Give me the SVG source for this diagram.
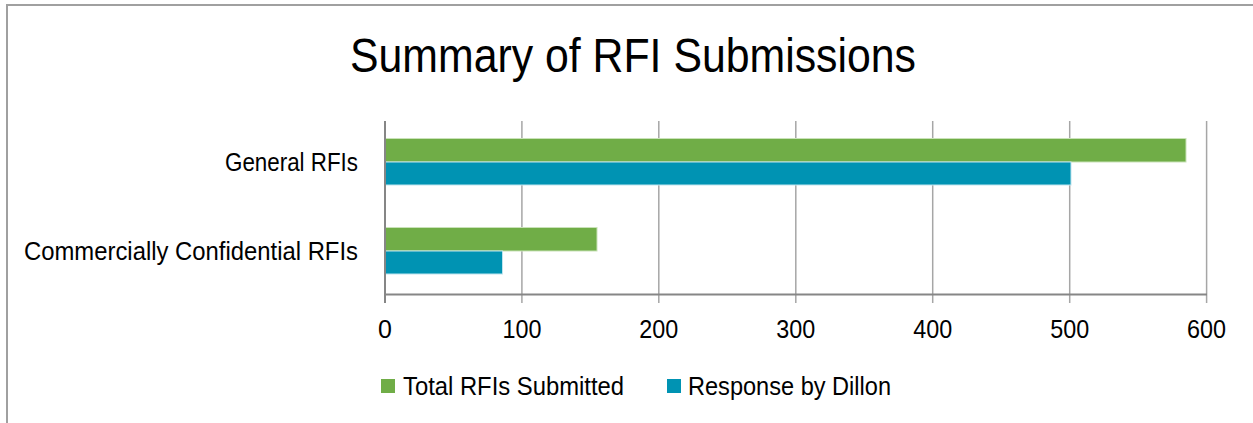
<svg xmlns="http://www.w3.org/2000/svg" width="1253" height="423" viewBox="0 0 1253 423">
<style>
text{font-family:"Liberation Sans",Arial,sans-serif;fill:#000}
.t{font-size:48px}
.c{font-size:26px;text-anchor:end}
.k{font-size:25px;text-anchor:middle}
.l{font-size:26px}
.grid{stroke:#a6a6a6;stroke-width:1.5}
.axis{stroke:#868686;stroke-width:2}
.g{fill:#70AD47;stroke:#c9e2b8;stroke-width:1}
.b{fill:#0093B3;stroke:#bfe4ee;stroke-width:1}
</style>
<rect x="0" y="0" width="1253" height="423" fill="#fff"/>
<path d="M7 423V5H1253" fill="none" stroke="#a0a0a0" stroke-width="2"/>
<g id="title"><text class="t" x="350" y="72" textLength="566" lengthAdjust="spacingAndGlyphs">Summary of RFI Submissions</text></g>
<g id="gridlines">
<line class="grid" x1="521.9" y1="121" x2="521.9" y2="303"/>
<line class="grid" x1="658.8" y1="121" x2="658.8" y2="303"/>
<line class="grid" x1="795.8" y1="121" x2="795.8" y2="303"/>
<line class="grid" x1="932.7" y1="121" x2="932.7" y2="303"/>
<line class="grid" x1="1069.7" y1="121" x2="1069.7" y2="303"/>
<line class="grid" x1="1206.6" y1="121" x2="1206.6" y2="303"/>
</g>
<g id="bars">
<rect id="general-total" class="g" x="385" y="138.5" width="801" height="23.5"/>
<rect id="general-response" class="b" x="385" y="162" width="686" height="23"/>
<rect id="cc-total" class="g" x="385" y="227.5" width="212" height="23.5"/>
<rect id="cc-response" class="b" x="385" y="251" width="117.5" height="23"/>
</g>
<g id="axes">
<line class="axis" x1="385" y1="121" x2="385" y2="303"/>
<line class="axis" x1="385" y1="294.5" x2="1207" y2="294.5"/>
</g>
<g id="category-labels">
<text class="c" x="358" y="170.5" textLength="133" lengthAdjust="spacingAndGlyphs">General RFIs</text>
<text class="c" x="358" y="259.5" textLength="334" lengthAdjust="spacingAndGlyphs">Commercially Confidential RFIs</text>
</g>
<g id="tick-labels">
<text class="k" x="385" y="338">0</text>
<text class="k" x="521.9" y="338" textLength="39" lengthAdjust="spacingAndGlyphs">100</text>
<text class="k" x="658.8" y="338" textLength="39" lengthAdjust="spacingAndGlyphs">200</text>
<text class="k" x="795.8" y="338" textLength="39" lengthAdjust="spacingAndGlyphs">300</text>
<text class="k" x="932.7" y="338" textLength="39" lengthAdjust="spacingAndGlyphs">400</text>
<text class="k" x="1069.7" y="338" textLength="39" lengthAdjust="spacingAndGlyphs">500</text>
<text class="k" x="1206.6" y="338" textLength="39" lengthAdjust="spacingAndGlyphs">600</text>
</g>
<g id="legend">
<rect x="381" y="379" width="14" height="14" fill="#70AD47"/>
<text class="l" x="403" y="395" textLength="221" lengthAdjust="spacingAndGlyphs">Total RFIs Submitted</text>
<rect x="667" y="379" width="14" height="14" fill="#0093B3"/>
<text class="l" x="688" y="395" textLength="203" lengthAdjust="spacingAndGlyphs">Response by Dillon</text>
</g>
</svg>
